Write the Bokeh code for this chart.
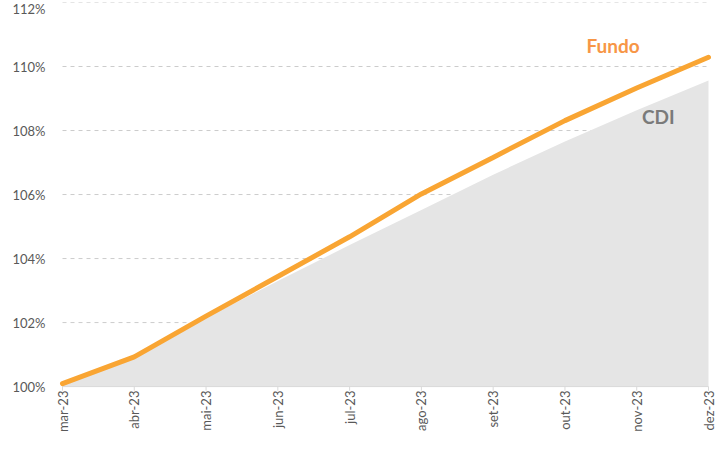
import numpy as np
from bokeh.plotting import figure
from bokeh.models import Range1d, FixedTicker, ColumnDataSource, Label
from bokeh.core.properties import value
from bokeh.embed import file_html
from bokeh.resources import INLINE

months = ["mar-23", "abr-23", "mai-23", "jun-23", "jul-23", "ago-23", "set-23", "out-23", "nov-23", "dez-23"]
fundo = [100.09, 100.93, 102.20, 103.44, 104.68, 106.02, 107.16, 108.31, 109.33, 110.29]
cdi = [100.05, 100.90, 102.15, 103.30, 104.42, 105.52, 106.62, 107.66, 108.63, 109.56]
y_ticks = [100, 102, 104, 106, 108, 110, 112]

FONT = "Lato"
n = len(months)
x = list(range(n))

# ---- layout (pixels) ----
W, H = 715, 436
LEFT, RIGHT, TOP = 50, 0, 2
FRAME_H = 426              # frame height as laid out by bokeh (title strip above)
PLOT_PX = 377              # pixels between 112% and 100%
FIRST_X_PX, LAST_X_PX = 12, W - LEFT - RIGHT - 7   # first/last category inside the frame

y_top, y_base = y_ticks[-1], y_ticks[0]
px_y = PLOT_PX / (y_top - y_base)
y_start = y_base - (FRAME_H - PLOT_PX) / px_y
px_x = (LAST_X_PX - FIRST_X_PX) / (n - 1)
x_start = -FIRST_X_PX / px_x
x_end = (n - 1) + (W - LEFT - RIGHT - LAST_X_PX) / px_x

p = figure(width=W, height=H, output_backend="svg", toolbar_location=None,
           x_range=Range1d(x_start, x_end), y_range=Range1d(y_start, y_top),
           min_border_left=LEFT, min_border_right=RIGHT, min_border_top=TOP, min_border_bottom=0)
p.outline_line_color = None
p.background_fill_color = "white"
p.xgrid.grid_line_color = None
p.ygrid.grid_line_color = None
p.xaxis.visible = False

src = ColumnDataSource(dict(x=x, fundo=fundo, cdi=cdi, base=[y_base] * n,
                            tick_end=[y_base - 4 / px_y] * n, text=months))
grid_src = ColumnDataSource(dict(x0=[x[0]] * (len(y_ticks) - 1), x1=[x[-1]] * (len(y_ticks) - 1),
                                 y=y_ticks[1:]))

# dashed horizontal grid
p.segment(x0="x0", x1="x1", y0="y", y1="y", source=grid_src,
          line_color="#cccccc", line_width=1, line_dash="4 4")

# CDI area
p.varea(x="x", y1="base", y2="cdi", source=src, fill_color="#e5e5e5")

# category axis: baseline, ticks and rotated labels
p.segment(x0=x[0], x1=x[-1], y0=y_base, y1=y_base, line_color="#d9d9d9", line_width=1)
p.segment(x0="x", x1="x", y0="base", y1="tick_end", source=src, line_color="#d9d9d9", line_width=1)
p.text(x="x", y="base", text="text", source=src, angle=np.pi / 2, y_offset=4,
       text_align="right", text_baseline="middle", text_font=value(FONT),
       text_font_size=value("13px"), text_color="#595959")

# Fundo line
p.line(x="x", y="fundo", source=src, line_color="#f9a533", line_width=5, line_cap="round")

p.yaxis.ticker = FixedTicker(ticks=y_ticks)
p.yaxis.major_label_overrides = {v: f"{v}%" for v in y_ticks}
p.yaxis.axis_line_color = None
p.yaxis.major_tick_line_color = None
p.yaxis.major_tick_out = 0
p.yaxis.major_label_standoff = 5
p.yaxis.minor_tick_line_color = None
p.yaxis.major_label_text_font = FONT
p.yaxis.major_label_text_font_size = "13px"
p.yaxis.major_label_text_color = "#595959"

p.add_layout(Label(x=7.67, y=110.3, text="Fundo", text_font=FONT, text_font_style="bold",
                   text_font_size="19px", text_color="#f79646", text_align="center"))
p.add_layout(Label(x=8.30, y=108.09, text="CDI", text_font=FONT, text_font_style="bold",
                   text_font_size="19px", text_color="#7a7a7a", text_align="center"))

open("out.html", "w").write(file_html(p, INLINE))
